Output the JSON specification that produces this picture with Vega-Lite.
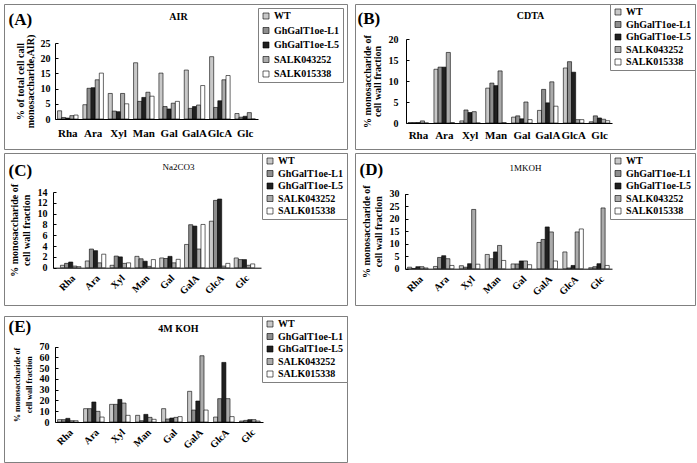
{
"$schema":"https://vega.github.io/schema/vega-lite/v6.json",
"background":"white",
"padding":{"left":3,"top":3,"right":3,"bottom":3},
"datasets":{
"A":[
{"sugar":"Rha","line":"WT","value":2.7},{"sugar":"Rha","line":"GhGalT1oe-L1","value":0.5},{"sugar":"Rha","line":"GhGalT1oe-L5","value":0.3},{"sugar":"Rha","line":"SALK043252","value":1.1},{"sugar":"Rha","line":"SALK015338","value":1.3},
{"sugar":"Ara","line":"WT","value":4.7},{"sugar":"Ara","line":"GhGalT1oe-L1","value":10.1},{"sugar":"Ara","line":"GhGalT1oe-L5","value":10.3},{"sugar":"Ara","line":"SALK043252","value":12.9},{"sugar":"Ara","line":"SALK015338","value":15.1},
{"sugar":"Xyl","line":"WT","value":8.4},{"sugar":"Xyl","line":"GhGalT1oe-L1","value":2.6},{"sugar":"Xyl","line":"GhGalT1oe-L5","value":2.4},{"sugar":"Xyl","line":"SALK043252","value":8.4},{"sugar":"Xyl","line":"SALK015338","value":5.0},
{"sugar":"Man","line":"WT","value":18.5},{"sugar":"Man","line":"GhGalT1oe-L1","value":5.8},{"sugar":"Man","line":"GhGalT1oe-L5","value":7.1},{"sugar":"Man","line":"SALK043252","value":8.8},{"sugar":"Man","line":"SALK015338","value":7.5},
{"sugar":"Gal","line":"WT","value":15.1},{"sugar":"Gal","line":"GhGalT1oe-L1","value":4.1},{"sugar":"Gal","line":"GhGalT1oe-L5","value":3.3},{"sugar":"Gal","line":"SALK043252","value":5.2},{"sugar":"Gal","line":"SALK015338","value":5.8},
{"sugar":"GalA","line":"WT","value":16.1},{"sugar":"GalA","line":"GhGalT1oe-L1","value":3.5},{"sugar":"GalA","line":"GhGalT1oe-L5","value":4.1},{"sugar":"GalA","line":"SALK043252","value":4.6},{"sugar":"GalA","line":"SALK015338","value":11.0},
{"sugar":"GlcA","line":"WT","value":20.5},{"sugar":"GlcA","line":"GhGalT1oe-L1","value":3.8},{"sugar":"GlcA","line":"GhGalT1oe-L5","value":6.0},{"sugar":"GlcA","line":"SALK043252","value":12.9},{"sugar":"GlcA","line":"SALK015338","value":14.3},
{"sugar":"Glc","line":"WT","value":1.8},{"sugar":"Glc","line":"GhGalT1oe-L1","value":0.6},{"sugar":"Glc","line":"GhGalT1oe-L5","value":0.9},{"sugar":"Glc","line":"SALK043252","value":2.1},{"sugar":"Glc","line":"SALK015338","value":0}
],
"B":[
{"sugar":"Rha","line":"WT","value":0.1},{"sugar":"Rha","line":"GhGalT1oe-L1","value":0.1},{"sugar":"Rha","line":"GhGalT1oe-L5","value":0.1},{"sugar":"Rha","line":"SALK043252","value":0.5},{"sugar":"Rha","line":"SALK015338","value":0},
{"sugar":"Ara","line":"WT","value":12.8},{"sugar":"Ara","line":"GhGalT1oe-L1","value":13.3},{"sugar":"Ara","line":"GhGalT1oe-L5","value":13.3},{"sugar":"Ara","line":"SALK043252","value":16.8},{"sugar":"Ara","line":"SALK015338","value":0.1},
{"sugar":"Xyl","line":"WT","value":0.5},{"sugar":"Xyl","line":"GhGalT1oe-L1","value":3.1},{"sugar":"Xyl","line":"GhGalT1oe-L5","value":2.5},{"sugar":"Xyl","line":"SALK043252","value":2.7},{"sugar":"Xyl","line":"SALK015338","value":0},
{"sugar":"Man","line":"WT","value":8.3},{"sugar":"Man","line":"GhGalT1oe-L1","value":9.5},{"sugar":"Man","line":"GhGalT1oe-L5","value":8.9},{"sugar":"Man","line":"SALK043252","value":12.4},{"sugar":"Man","line":"SALK015338","value":0.1},
{"sugar":"Gal","line":"WT","value":1.4},{"sugar":"Gal","line":"GhGalT1oe-L1","value":1.7},{"sugar":"Gal","line":"GhGalT1oe-L5","value":1.0},{"sugar":"Gal","line":"SALK043252","value":5.0},{"sugar":"Gal","line":"SALK015338","value":0.8},
{"sugar":"GalA","line":"WT","value":3.0},{"sugar":"GalA","line":"GhGalT1oe-L1","value":8.0},{"sugar":"GalA","line":"GhGalT1oe-L5","value":4.8},{"sugar":"GalA","line":"SALK043252","value":9.8},{"sugar":"GalA","line":"SALK015338","value":4.0},
{"sugar":"GlcA","line":"WT","value":13.1},{"sugar":"GlcA","line":"GhGalT1oe-L1","value":14.6},{"sugar":"GlcA","line":"GhGalT1oe-L5","value":12.1},{"sugar":"GlcA","line":"SALK043252","value":0.8},{"sugar":"GlcA","line":"SALK015338","value":0.8},
{"sugar":"Glc","line":"WT","value":0.3},{"sugar":"Glc","line":"GhGalT1oe-L1","value":1.7},{"sugar":"Glc","line":"GhGalT1oe-L5","value":1.2},{"sugar":"Glc","line":"SALK043252","value":0.9},{"sugar":"Glc","line":"SALK015338","value":0.55}
],
"C":[
{"sugar":"Rha","line":"WT","value":0.45},{"sugar":"Rha","line":"GhGalT1oe-L1","value":0.8},{"sugar":"Rha","line":"GhGalT1oe-L5","value":1.05},{"sugar":"Rha","line":"SALK043252","value":0.3},{"sugar":"Rha","line":"SALK015338","value":0.2},
{"sugar":"Ara","line":"WT","value":1.25},{"sugar":"Ara","line":"GhGalT1oe-L1","value":3.45},{"sugar":"Ara","line":"GhGalT1oe-L5","value":3.15},{"sugar":"Ara","line":"SALK043252","value":0.9},{"sugar":"Ara","line":"SALK015338","value":2.5},
{"sugar":"Xyl","line":"WT","value":0.45},{"sugar":"Xyl","line":"GhGalT1oe-L1","value":2.15},{"sugar":"Xyl","line":"GhGalT1oe-L5","value":2.0},{"sugar":"Xyl","line":"SALK043252","value":0.8},{"sugar":"Xyl","line":"SALK015338","value":0.9},
{"sugar":"Man","line":"WT","value":2.1},{"sugar":"Man","line":"GhGalT1oe-L1","value":1.65},{"sugar":"Man","line":"GhGalT1oe-L5","value":1.2},{"sugar":"Man","line":"SALK043252","value":0.25},{"sugar":"Man","line":"SALK015338","value":1.5},
{"sugar":"Gal","line":"WT","value":1.8},{"sugar":"Gal","line":"GhGalT1oe-L1","value":1.7},{"sugar":"Gal","line":"GhGalT1oe-L5","value":2.1},{"sugar":"Gal","line":"SALK043252","value":0.9},{"sugar":"Gal","line":"SALK015338","value":1.55},
{"sugar":"GalA","line":"WT","value":4.3},{"sugar":"GalA","line":"GhGalT1oe-L1","value":7.95},{"sugar":"GalA","line":"GhGalT1oe-L5","value":7.7},{"sugar":"GalA","line":"SALK043252","value":3.45},{"sugar":"GalA","line":"SALK015338","value":8.0},
{"sugar":"GlcA","line":"WT","value":8.6},{"sugar":"GlcA","line":"GhGalT1oe-L1","value":12.45},{"sugar":"GlcA","line":"GhGalT1oe-L5","value":12.7},{"sugar":"GlcA","line":"SALK043252","value":0.3},{"sugar":"GlcA","line":"SALK015338","value":0.8},
{"sugar":"Glc","line":"WT","value":1.8},{"sugar":"Glc","line":"GhGalT1oe-L1","value":1.5},{"sugar":"Glc","line":"GhGalT1oe-L5","value":1.5},{"sugar":"Glc","line":"SALK043252","value":0.45},{"sugar":"Glc","line":"SALK015338","value":0.7}
],
"D":[
{"sugar":"Rha","line":"WT","value":0.6},{"sugar":"Rha","line":"GhGalT1oe-L1","value":0.1},{"sugar":"Rha","line":"GhGalT1oe-L5","value":0.8},{"sugar":"Rha","line":"SALK043252","value":0.8},{"sugar":"Rha","line":"SALK015338","value":0.3},
{"sugar":"Ara","line":"WT","value":0.9},{"sugar":"Ara","line":"GhGalT1oe-L1","value":4.5},{"sugar":"Ara","line":"GhGalT1oe-L5","value":5.2},{"sugar":"Ara","line":"SALK043252","value":4.0},{"sugar":"Ara","line":"SALK015338","value":1.3},
{"sugar":"Xyl","line":"WT","value":1.2},{"sugar":"Xyl","line":"GhGalT1oe-L1","value":0.6},{"sugar":"Xyl","line":"GhGalT1oe-L5","value":2.0},{"sugar":"Xyl","line":"SALK043252","value":23.7},{"sugar":"Xyl","line":"SALK015338","value":1.8},
{"sugar":"Man","line":"WT","value":5.7},{"sugar":"Man","line":"GhGalT1oe-L1","value":4.0},{"sugar":"Man","line":"GhGalT1oe-L5","value":6.7},{"sugar":"Man","line":"SALK043252","value":9.3},{"sugar":"Man","line":"SALK015338","value":3.3},
{"sugar":"Gal","line":"WT","value":1.9},{"sugar":"Gal","line":"GhGalT1oe-L1","value":1.9},{"sugar":"Gal","line":"GhGalT1oe-L5","value":3.1},{"sugar":"Gal","line":"SALK043252","value":3.1},{"sugar":"Gal","line":"SALK015338","value":1.6},
{"sugar":"GalA","line":"WT","value":10.5},{"sugar":"GalA","line":"GhGalT1oe-L1","value":11.7},{"sugar":"GalA","line":"GhGalT1oe-L5","value":16.7},{"sugar":"GalA","line":"SALK043252","value":14.7},{"sugar":"GalA","line":"SALK015338","value":3.1},
{"sugar":"GlcA","line":"WT","value":6.7},{"sugar":"GlcA","line":"GhGalT1oe-L1","value":0.3},{"sugar":"GlcA","line":"GhGalT1oe-L5","value":1.3},{"sugar":"GlcA","line":"SALK043252","value":14.7},{"sugar":"GlcA","line":"SALK015338","value":15.9},
{"sugar":"Glc","line":"WT","value":0.4},{"sugar":"Glc","line":"GhGalT1oe-L1","value":0.8},{"sugar":"Glc","line":"GhGalT1oe-L5","value":2.0},{"sugar":"Glc","line":"SALK043252","value":24.3},{"sugar":"Glc","line":"SALK015338","value":1.3}
],
"E":[
{"sugar":"Rha","line":"WT","value":2.2},{"sugar":"Rha","line":"GhGalT1oe-L1","value":2.2},{"sugar":"Rha","line":"GhGalT1oe-L5","value":3.4},{"sugar":"Rha","line":"SALK043252","value":1.2},{"sugar":"Rha","line":"SALK015338","value":1.2},
{"sugar":"Ara","line":"WT","value":12.4},{"sugar":"Ara","line":"GhGalT1oe-L1","value":12.4},{"sugar":"Ara","line":"GhGalT1oe-L5","value":18.6},{"sugar":"Ara","line":"SALK043252","value":9.9},{"sugar":"Ara","line":"SALK015338","value":4.6},
{"sugar":"Xyl","line":"WT","value":16.4},{"sugar":"Xyl","line":"GhGalT1oe-L1","value":16.4},{"sugar":"Xyl","line":"GhGalT1oe-L5","value":21.0},{"sugar":"Xyl","line":"SALK043252","value":17.6},{"sugar":"Xyl","line":"SALK015338","value":6.2},
{"sugar":"Man","line":"WT","value":6.2},{"sugar":"Man","line":"GhGalT1oe-L1","value":1.2},{"sugar":"Man","line":"GhGalT1oe-L5","value":7.1},{"sugar":"Man","line":"SALK043252","value":4.3},{"sugar":"Man","line":"SALK015338","value":2.5},
{"sugar":"Gal","line":"WT","value":12.4},{"sugar":"Gal","line":"GhGalT1oe-L1","value":2.8},{"sugar":"Gal","line":"GhGalT1oe-L5","value":3.7},{"sugar":"Gal","line":"SALK043252","value":4.3},{"sugar":"Gal","line":"SALK015338","value":5.0},
{"sugar":"GalA","line":"WT","value":28.5},{"sugar":"GalA","line":"GhGalT1oe-L1","value":11.1},{"sugar":"GalA","line":"GhGalT1oe-L5","value":19.5},{"sugar":"GalA","line":"SALK043252","value":61.6},{"sugar":"GalA","line":"SALK015338","value":11.1},
{"sugar":"GlcA","line":"WT","value":4.6},{"sugar":"GlcA","line":"GhGalT1oe-L1","value":21.7},{"sugar":"GlcA","line":"GhGalT1oe-L5","value":55.4},{"sugar":"GlcA","line":"SALK043252","value":21.7},{"sugar":"GlcA","line":"SALK015338","value":5.0},
{"sugar":"Glc","line":"WT","value":0.9},{"sugar":"Glc","line":"GhGalT1oe-L1","value":1.5},{"sugar":"Glc","line":"GhGalT1oe-L5","value":2.2},{"sugar":"Glc","line":"SALK043252","value":2.2},{"sugar":"Glc","line":"SALK015338","value":0.9}
]
},
"spacing":9,
"resolve":{"scale":{"color":"independent"},"legend":{"color":"independent"}},
"vconcat":[
{
"spacing":2,
"resolve":{"scale":{"color":"independent"},"legend":{"color":"independent"}},
"vconcat":[
{
"spacing":6,
"resolve":{"scale":{"color":"independent"},"legend":{"color":"independent"}},
"hconcat":[
{
"width":343,"height":145,
"data":{"name":"A"},
"resolve":{"axis":{"x":"independent"}},
"layer":[
{
"mark":{"type":"bar","stroke":"#000","strokeWidth":0.6},
"encoding":{
"x":{"field":"sugar","type":"nominal","sort":["Rha","Ara","Xyl","Man","Gal","GalA","GlcA","Glc"],"scale":{"range":[51,254],"paddingInner":0.19,"paddingOuter":0.1},
"axis":{"offset":-30,"labelAngle":0,"labelFontSize":11,"labelPadding":8,"ticks":false,"title":"(A)","titleX":4,"titleY":-95,"titleAlign":"left","titleBaseline":"alphabetic","titleFontSize":17,"titleAngle":0}},
"xOffset":{"field":"line","type":"nominal","sort":["WT","GhGalT1oe-L1","GhGalT1oe-L5","SALK043252","SALK015338"]},
"y":{"field":"value","type":"quantitative","scale":{"domain":[0,25],"range":[115,39],"nice":false},
"axis":{"offset":-51,"values":[0,5,10,15,20,25],"labelFontSize":10,"tickSize":-3,"labelPadding":8,"title":["% of total cell call","monosaccharide,AIR)"],"titleFontSize":10,"titlePadding":5,"titleLineHeight":10}},
"color":{"field":"line","type":"nominal","scale":{"domain":["WT","GhGalT1oe-L1","GhGalT1oe-L5","SALK043252","SALK015338"],"range":["#c8c8c8","#8e8e8e","#202020","#ababab","#ffffff"]},
"legend":{"orient":"top-right","offset":4,"rowPadding":4.5}}
}
},
{
"mark":{"type":"rule","strokeOpacity":0},
"encoding":{"x":{"field":"sugar","type":"nominal","sort":["Rha","Ara","Xyl","Man","Gal","GalA","GlcA","Glc"],
"axis":{"orient":"top","labels":false,"ticks":false,"domain":false,"title":"AIR","titleX":174,"titleY":15,"titleAlign":"center","titleBaseline":"alphabetic","titleFontSize":10,"titleAngle":0}}}
}
]
},
{
"width":340,"height":145,
"data":{"name":"B"},
"resolve":{"axis":{"x":"independent"}},
"layer":[
{
"mark":{"type":"bar","stroke":"#000","strokeWidth":0.6},
"encoding":{
"x":{"field":"sugar","type":"nominal","sort":["Rha","Ara","Xyl","Man","Gal","GalA","GlcA","Glc"],"scale":{"range":[51,257],"paddingInner":0.2,"paddingOuter":0.08},
"axis":{"offset":-26,"labelAngle":0,"labelFontSize":11,"labelPadding":6,"ticks":false,"title":"(B)","titleX":2,"titleY":-100,"titleAlign":"left","titleBaseline":"alphabetic","titleFontSize":17,"titleAngle":0}},
"xOffset":{"field":"line","type":"nominal","sort":["WT","GhGalT1oe-L1","GhGalT1oe-L5","SALK043252","SALK015338"]},
"y":{"field":"value","type":"quantitative","scale":{"domain":[0,20],"range":[119,35],"nice":false},
"axis":{"offset":-51,"values":[0,5,10,15,20],"labelFontSize":10,"tickSize":-3,"labelPadding":11,"title":["% monosaccharide of","cell wall fraction"],"titleFontSize":10,"titlePadding":6,"titleLineHeight":10}},
"color":{"field":"line","type":"nominal","scale":{"domain":["WT","GhGalT1oe-L1","GhGalT1oe-L5","SALK043252","SALK015338"],"range":["#c8c8c8","#8e8e8e","#202020","#ababab","#ffffff"]},
"legend":{"orient":"top-right","offset":0}}
}
},
{
"mark":{"type":"rule","strokeOpacity":0},
"encoding":{"x":{"field":"sugar","type":"nominal","sort":["Rha","Ara","Xyl","Man","Gal","GalA","GlcA","Glc"],
"axis":{"orient":"top","labels":false,"ticks":false,"domain":false,"title":"CDTA","titleX":175,"titleY":14,"titleAlign":"center","titleBaseline":"alphabetic","titleFontSize":10,"titleAngle":0}}}
}
]
}
]
},
{
"spacing":6,
"resolve":{"scale":{"color":"independent"},"legend":{"color":"independent"}},
"hconcat":[
{
"width":343,"height":152,
"data":{"name":"C"},
"resolve":{"axis":{"x":"independent"}},
"layer":[
{
"mark":{"type":"bar","stroke":"#000","strokeWidth":0.6},
"encoding":{
"x":{"field":"sugar","type":"nominal","sort":["Rha","Ara","Xyl","Man","Gal","GalA","GlcA","Glc"],"scale":{"range":[49,257],"paddingInner":0.22,"paddingOuter":0.3},
"axis":{"offset":-37.3,"labelAngle":-45,"labelFontSize":10,"labelPadding":5,"ticks":false,"title":"(C)","titleX":4,"titleY":-92.7,"titleAlign":"left","titleBaseline":"alphabetic","titleFontSize":17,"titleAngle":0}},
"xOffset":{"field":"line","type":"nominal","sort":["WT","GhGalT1oe-L1","GhGalT1oe-L5","SALK043252","SALK015338"]},
"y":{"field":"value","type":"quantitative","scale":{"domain":[0,14],"range":[114.7,39],"nice":false},
"axis":{"offset":-49,"values":[0,2,4,6,8,10,12,14],"labelFontSize":10,"tickSize":-3,"labelPadding":9,"title":["% monosaccharide of","cell wall fraction"],"titleFontSize":10,"titlePadding":6,"titleLineHeight":12}},
"color":{"field":"line","type":"nominal","scale":{"domain":["WT","GhGalT1oe-L1","GhGalT1oe-L5","SALK043252","SALK015338"],"range":["#c8c8c8","#8e8e8e","#202020","#ababab","#ffffff"]},
"legend":{"orient":"top-right","offset":0}}
}
},
{
"mark":{"type":"rule","strokeOpacity":0},
"encoding":{"x":{"field":"sugar","type":"nominal","sort":["Rha","Ara","Xyl","Man","Gal","GalA","GlcA","Glc"],
"axis":{"orient":"top","labels":false,"ticks":false,"domain":false,"title":"Na2CO3","titleX":174,"titleY":16,"titleAlign":"center","titleBaseline":"alphabetic","titleFontSize":9,"titleFontWeight":"normal","titleAngle":0}}}
}
]
},
{
"width":340,"height":152,
"data":{"name":"D"},
"resolve":{"axis":{"x":"independent"}},
"layer":[
{
"mark":{"type":"bar","stroke":"#000","strokeWidth":0.6},
"encoding":{
"x":{"field":"sugar","type":"nominal","sort":["Rha","Ara","Xyl","Man","Gal","GalA","GlcA","Glc"],"scale":{"range":[50,257],"paddingInner":0.2,"paddingOuter":0.1},
"axis":{"offset":-36.3,"labelAngle":-45,"labelFontSize":10,"labelPadding":5,"ticks":false,"title":"(D)","titleX":4,"titleY":-94.7,"titleAlign":"left","titleBaseline":"alphabetic","titleFontSize":17,"titleAngle":0}},
"xOffset":{"field":"line","type":"nominal","sort":["WT","GhGalT1oe-L1","GhGalT1oe-L5","SALK043252","SALK015338"]},
"y":{"field":"value","type":"quantitative","scale":{"domain":[0,30],"range":[115.7,40.7],"nice":false},
"axis":{"offset":-50,"values":[0,5,10,15,20,25,30],"labelFontSize":10,"tickSize":-3,"labelPadding":9,"title":["% monosaccharide of","cell wall fraction"],"titleFontSize":10,"titlePadding":6,"titleLineHeight":12}},
"color":{"field":"line","type":"nominal","scale":{"domain":["WT","GhGalT1oe-L1","GhGalT1oe-L5","SALK043252","SALK015338"],"range":["#c8c8c8","#8e8e8e","#202020","#ababab","#ffffff"]},
"legend":{"orient":"top-right","offset":0}}
}
},
{
"mark":{"type":"rule","strokeOpacity":0},
"encoding":{"x":{"field":"sugar","type":"nominal","sort":["Rha","Ara","Xyl","Man","Gal","GalA","GlcA","Glc"],
"axis":{"orient":"top","labels":false,"ticks":false,"domain":false,"title":"1MKOH","titleX":170,"titleY":17,"titleAlign":"center","titleBaseline":"alphabetic","titleFontSize":9,"titleFontWeight":"normal","titleAngle":0}}}
}
]
}
]
}
]
},
{
"width":343,"height":146,
"data":{"name":"E"},
"resolve":{"axis":{"x":"independent"}},
"layer":[
{
"mark":{"type":"bar","stroke":"#000","strokeWidth":0.6},
"encoding":{
"x":{"field":"sugar","type":"nominal","sort":["Rha","Ara","Xyl","Man","Gal","GalA","GlcA","Glc"],"scale":{"range":[51,259],"paddingInner":0.2,"paddingOuter":0.1},
"axis":{"offset":-40,"labelAngle":-45,"labelFontSize":10,"labelPadding":5,"ticks":false,"title":"(E)","titleX":4,"titleY":-91,"titleAlign":"left","titleBaseline":"alphabetic","titleFontSize":17,"titleAngle":0}},
"xOffset":{"field":"line","type":"nominal","sort":["WT","GhGalT1oe-L1","GhGalT1oe-L5","SALK043252","SALK015338"]},
"y":{"field":"value","type":"quantitative","scale":{"domain":[0,70],"range":[106,30.7],"nice":false},
"axis":{"offset":-51,"values":[0,10,20,30,40,50,60,70],"labelFontSize":10,"tickSize":-3,"labelPadding":9,"title":["% monosaccharide of","cell wall fraction"],"titleFontSize":8,"titlePadding":6,"titleLineHeight":12}},
"color":{"field":"line","type":"nominal","scale":{"domain":["WT","GhGalT1oe-L1","GhGalT1oe-L5","SALK043252","SALK015338"],"range":["#c8c8c8","#8e8e8e","#202020","#ababab","#ffffff"]},
"legend":{"orient":"top-right","offset":0}}
}
},
{
"mark":{"type":"rule","strokeOpacity":0},
"encoding":{"x":{"field":"sugar","type":"nominal","sort":["Rha","Ara","Xyl","Man","Gal","GalA","GlcA","Glc"],
"axis":{"orient":"top","labels":false,"ticks":false,"domain":false,"title":"4M KOH","titleX":174,"titleY":15,"titleAlign":"center","titleBaseline":"alphabetic","titleFontSize":10,"titleAngle":0}}}
}
]
}
],
"config":{
"font":"Liberation Serif",
"view":{"stroke":"#808080","strokeWidth":1},
"axis":{"labelFont":"Liberation Serif","labelFontWeight":"bold","labelColor":"#000","titleFont":"Liberation Serif","titleFontWeight":"bold","titleColor":"#000","domainColor":"#000","tickColor":"#000","grid":false,"labelOverlap":false},
"legend":{"title":null,"strokeColor":"#808080","fillColor":"#ffffff","padding":3,"symbolType":"square","symbolSize":36,"symbolStrokeColor":"#000","symbolStrokeWidth":0.6,"labelFont":"Liberation Serif","labelFontWeight":"bold","labelFontSize":10,"labelColor":"#000","labelOffset":3,"rowPadding":2.5}
}
}
